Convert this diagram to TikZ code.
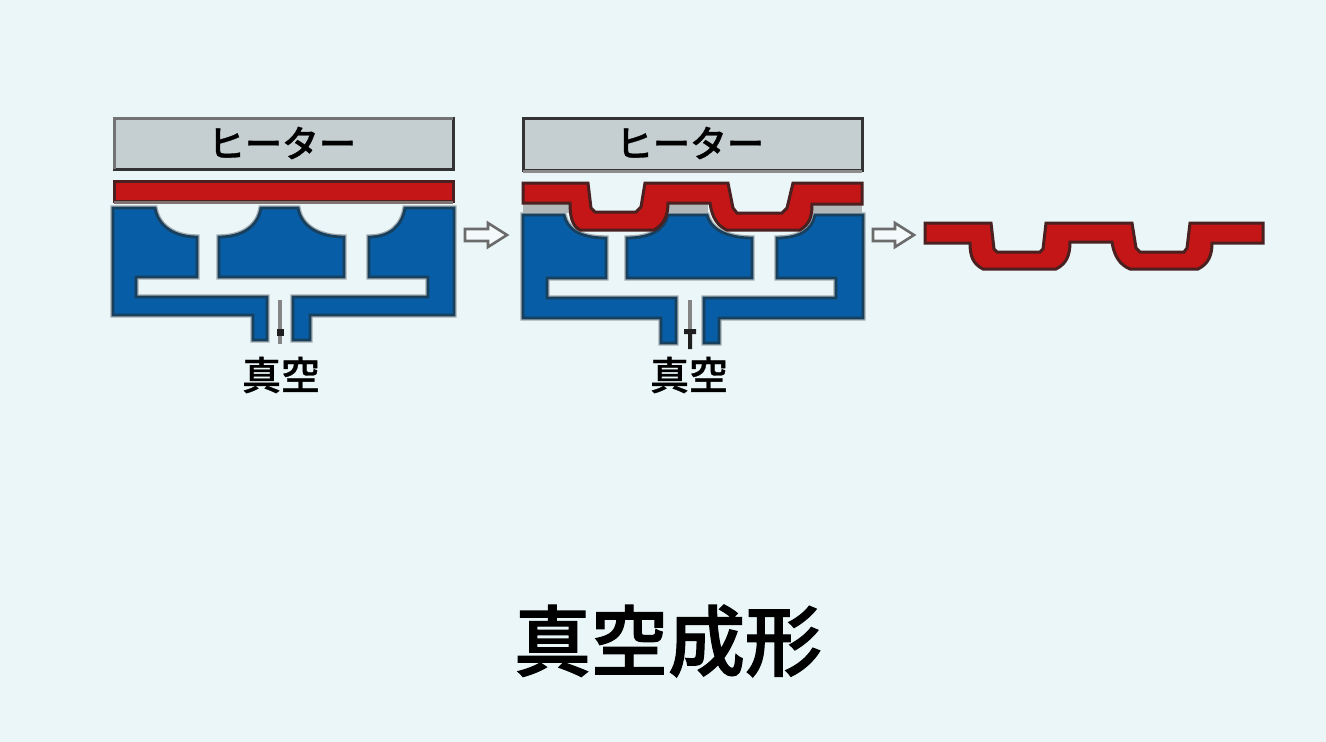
\documentclass[tikz,border=0pt]{standalone}
\usepackage{fontspec}
\newfontfamily\cjkm[FakeBold=0.9]{Noto Sans CJK JP Medium}
\newfontfamily\cjkt[FakeBold=1.6]{Noto Sans CJK JP Medium}
\definecolor{bgc}{HTML}{EAF6F8}
\definecolor{moldblue}{HTML}{075EA6}
\definecolor{moldedge}{HTML}{17405F}
\definecolor{sheetred}{HTML}{C51617}
\definecolor{sheetedge}{HTML}{4A2020}
\definecolor{heatgrey}{HTML}{C5CED1}
\definecolor{halo}{HTML}{A4ABAE}
\tikzset{
  halopart/.style={draw=halo,line width=5.4pt,line join=miter},
  moldpart/.style={fill=moldblue,draw=moldedge,line width=2.8pt,line join=miter},
  sheetpart/.style={fill=sheetred,draw=sheetedge,line width=3pt,line join=miter},
  heaterbox/.style={fill=heatgrey,draw=black!80,line width=3pt},
  labeltext/.style={font=\cjkm\fontsize{37}{37}\selectfont,text=black,inner sep=0pt},
  vactext/.style={font=\cjkm\fontsize{39}{39}\selectfont,text=black,inner sep=0pt},
  titletext/.style={font=\cjkt\fontsize{77}{77}\selectfont,text=black,inner sep=0pt},
  hollowarrow/.style={fill=bgc!50!white,draw=black!58,line width=2.6pt,line join=miter},
  vacline/.style={draw=black!48,line width=3.2pt},
  vactip/.style={fill=black!88,draw=none},
}
\begin{document}
\begin{tikzpicture}[x=1pt,y=-1pt]
\useasboundingbox (0,0) rectangle (1326,742);
\fill[bgc] (0,0) rectangle (1326,742);

% ---------- first stage ----------
\node[heaterbox,minimum width=339pt,minimum height=51pt,inner sep=0pt] (h1) at (283.5,143.5) {};
\draw[black!55,line width=3pt] (114,169) -- (114,118) -- (453,118);
\node[labeltext] (t1) at (282,143) {ヒーター};
\def\moldAa{(113,208) -- (155,208) .. controls (158,226) and (174,237) .. (197,237) -- (197,277) -- (136,277) -- (136,297) -- (267,297) -- (267,340) -- (253,340) -- (253,315) -- (113,315) -- cycle}
\def\moldAb{(219,237) .. controls (243,237) and (258,226) .. (261,208) -- (298,208) .. controls (301,226) and (318,237) .. (344,237) -- (344,277) -- (219,277) -- cycle}
\def\moldAc{(369,237) .. controls (390,237) and (402,226) .. (405,208) -- (454,208) -- (454,315) -- (310,315) -- (310,340) -- (293,340) -- (293,297) -- (428,297) -- (428,277) -- (369,277) -- cycle}
\draw[halopart] \moldAa; \draw[halopart] \moldAb; \draw[halopart] \moldAc;
\path[moldpart] \moldAa; \path[moldpart] \moldAb; \path[moldpart] \moldAc;
\draw[sheetpart] (114,181) rectangle (453,201);
\draw[draw=black!40!sheetedge!60!white,line width=2.5pt] (114,202.5) -- (453,202.5);
\draw[vacline] (280,300) -- (280,344);
\fill[vactip] (276.5,329) rectangle (284,336);
\node[vactext] (v1) at (281,375) {真空};

% arrow 1
\draw[hollowarrow] (465,229) -- (488,229) -- (488,223) -- (507,235) -- (488,247) -- (488,241) -- (465,241) -- cycle;

% ---------- second stage ----------
\node[heaterbox,minimum width=339pt,minimum height=52pt,inner sep=0pt] (h2) at (692.5,144) {};
\draw[black!45,line width=3pt] (523,171) -- (862,171);
\node[labeltext] (t2) at (690,143) {ヒーター};
\def\moldBa{(523,215) -- (564,215) .. controls (567,228) and (578,238) .. (606,238) -- (606,278) -- (547,278) -- (547,298) -- (676,298) -- (676,343) -- (661,343) -- (661,318) -- (523,318) -- cycle}
\def\moldBb{(627,238) .. controls (650,238) and (665,230) .. (668,215) -- (707,215) .. controls (710,228) and (725,238) .. (752,238) -- (752,278) -- (627,278) -- cycle}
\def\moldBc{(777,238) .. controls (800,238) and (812,230) .. (815,215) -- (863,215) -- (863,318) -- (719,318) -- (719,343) -- (704,343) -- (704,298) -- (836,298) -- (836,278) -- (777,278) -- cycle}
\draw[halopart] \moldBa; \draw[halopart] \moldBb; \draw[halopart] \moldBc;
\path[moldpart] \moldBa; \path[moldpart] \moldBb; \path[moldpart] \moldBc;
\fill[halo!85!white] (523,204) rectangle (570,213);
\fill[halo!85!white] (668,204) rectangle (708,213);
\fill[halo!85!white] (812,204) rectangle (862,213);
\draw[sheetpart] (523,183) -- (588,183) -- (591,208) -- (595,212) -- (636,212) -- (641,207) -- (645,183) -- (728,183) -- (733,208) -- (737,213) -- (782,213) -- (787,208) -- (793,183) -- (862,183) -- (862,204) -- (812,204) .. controls (812,216) and (810,224) .. (800,230) -- (727,230) .. controls (718,226) and (712,218) .. (710,203) -- (668,203) .. controls (668,216) and (664,224) .. (654,230) -- (580,230) .. controls (572,226) and (570,216) .. (570,203) -- (523,203) -- cycle;
\draw[vacline] (690,300) -- (690,333);
\fill[vactip] (684,329) -- (696,329) -- (696,334) -- (692,334) -- (692,349) -- (688,349) -- (688,334) -- (684,334) -- cycle;
\node[vactext] (v2) at (689,375) {真空};

% arrow 2
\draw[hollowarrow] (873,229) -- (895,229) -- (895,223) -- (914,235) -- (895,247) -- (895,241) -- (873,241) -- cycle;

% ---------- finished part ----------
\draw[sheetpart] (925,223) -- (991,223) -- (994,249) -- (997,252) -- (1040,252) -- (1043,249) -- (1046,223) -- (1132,223) -- (1136,248) -- (1140,252) -- (1184,252) -- (1187,248) -- (1190,223) -- (1263,223) -- (1263,243) -- (1212,243) .. controls (1212,256) and (1208,264) .. (1198,269) -- (1130,269) .. controls (1120,265) and (1114,256) .. (1112,242) -- (1070,242) .. controls (1070,256) and (1066,264) .. (1056,269) -- (983,269) .. controls (973,264) and (970,256) .. (970,243) -- (925,243) -- cycle;

% ---------- title ----------
\node[titletext] (title) at (668,641) {真空成形};
\end{tikzpicture}
\end{document}
